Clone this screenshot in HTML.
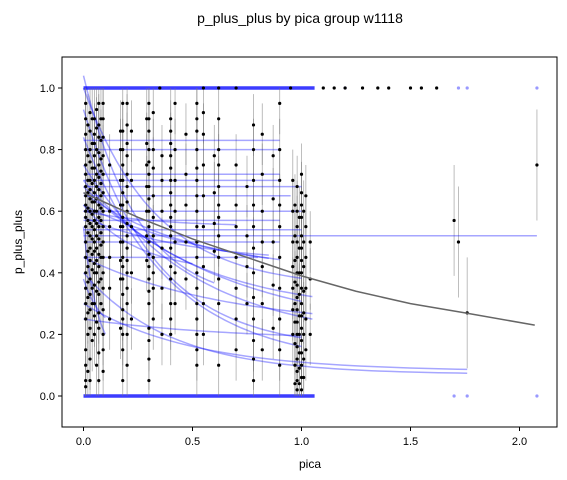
<!DOCTYPE html>
<html><head><meta charset="utf-8"><style>
body{margin:0;background:#fff}
svg{display:block;font-family:"Liberation Sans","DejaVu Sans",sans-serif}
</style></head><body>
<svg id="chart" width="567" height="480">
<text x="300" y="23" text-anchor="middle" font-size="14">p_plus_plus by pica group w1118</text>
<g id="plot"></g>
<rect x="62" y="57" width="495" height="370" fill="none" stroke="#000" stroke-width="1"/>
<g id="axes"></g>
<text x="310" y="468" text-anchor="middle" font-size="12">pica</text>
<text transform="translate(22,242) rotate(-90)" text-anchor="middle" font-size="12">p_plus_plus</text>
</svg>
<script>
const xTicks=[0,0.5,1.0,1.5,2.0];
const xTickLabels=["0.0","0.5","1.0","1.5","2.0"];
const yTicks=[0,0.2,0.4,0.6,0.8,1.0];
const yTickLabels=["0.0","0.2","0.4","0.6","0.8","1.0"];
const colX=[0.01,0.02,0.03,0.04,0.05,0.06,0.07,0.08,0.09,0.12,0.17,0.18,0.2,0.22,0.29,0.3,0.32,0.36,0.4,0.42,0.47,0.52,0.55,0.6,0.62,0.7,0.75,0.78,0.82,0.87,0.9,0.96,0.97,0.98,0.99,1.0,1.01,1.02,1.04];
const colY=[
[0.95,0.9,0.85,0.8,0.75,0.72,0.68,0.65,0.62,0.6,0.58,0.55,0.5,0.45,0.4,0.35,0.3,0.25,0.15,0.1,0.05,0.03],
[0.88,0.78,0.7,0.66,0.61,0.57,0.53,0.47,0.42,0.37,0.32,0.27,0.2,0.08],
[0.92,0.86,0.8,0.76,0.7,0.67,0.64,0.6,0.56,0.52,0.48,0.44,0.38,0.33,0.28,0.22,0.12,0.05],
[0.9,0.82,0.74,0.69,0.63,0.59,0.55,0.51,0.46,0.41,0.35,0.3,0.18],
[0.9,0.85,0.82,0.78,0.74,0.7,0.66,0.63,0.6,0.57,0.54,0.5,0.47,0.43,0.4,0.36,0.3,0.26,0.2],
[0.93,0.87,0.8,0.72,0.68,0.64,0.6,0.56,0.52,0.48,0.44,0.4,0.34,0.24,0.1],
[0.95,0.88,0.84,0.79,0.75,0.71,0.67,0.62,0.58,0.55,0.51,0.46,0.42,0.37,0.33,0.27,0.22,0.14,0.05],
[0.9,0.83,0.77,0.73,0.69,0.65,0.61,0.57,0.53,0.49,0.45,0.38,0.3],
[0.95,0.9,0.84,0.78,0.72,0.66,0.6,0.55,0.5,0.45,0.4,0.35,0.28,0.2,0.15,0.08],
[0.75,0.6,0.55,0.45,0.35,0.25],
[0.86,0.8,0.7,0.62,0.55,0.5,0.44,0.38,0.22],
[0.95,0.86,0.8,0.75,0.7,0.66,0.62,0.58,0.55,0.5,0.45,0.42,0.38,0.33,0.28,0.25,0.2,0.15,0.05],
[0.95,0.88,0.82,0.78,0.72,0.68,0.63,0.6,0.56,0.52,0.48,0.44,0.4,0.35,0.3,0.2,0.1],
[0.86,0.7,0.55,0.4,0.25],
[0.9,0.82,0.75,0.68,0.6,0.52,0.44],
[0.95,0.9,0.86,0.8,0.76,0.72,0.68,0.64,0.6,0.55,0.5,0.46,0.42,0.38,0.34,0.3,0.22,0.18,0.12,0.05],
[0.92,0.8,0.74,0.65,0.58,0.52,0.45,0.4,0.35,0.25],
[0.78,0.7,0.6,0.48,0.35,0.2],
[0.9,0.86,0.82,0.78,0.74,0.7,0.66,0.62,0.58,0.55,0.52,0.48,0.42,0.38,0.3,0.25,0.2],
[0.95,0.8,0.7,0.6,0.5,0.4,0.3],
[0.85,0.72,0.62,0.5,0.38],
[0.95,0.9,0.86,0.8,0.74,0.7,0.65,0.6,0.55,0.5,0.45,0.4,0.35,0.3,0.25,0.2,0.15,0.1],
[0.92,0.85,0.75,0.65,0.55,0.42,0.3,0.2],
[0.78,0.66,0.56,0.47],
[0.9,0.8,0.75,0.68,0.62,0.58,0.52,0.45,0.38,0.3,0.1],
[0.75,0.62,0.55,0.45,0.35,0.25,0.15],
[0.68,0.52,0.42,0.3],
[0.88,0.8,0.7,0.62,0.55,0.48,0.4,0.32,0.25,0.18,0.12,0.05],
[0.85,0.72,0.6,0.5,0.42,0.3,0.15],
[0.78,0.64,0.5,0.36,0.22],
[0.95,0.8,0.7,0.62,0.55,0.45,0.35,0.25,0.15,0.1],
[0.7,0.6,0.5,0.42,0.35,0.28,0.2],
[0.62,0.52,0.44,0.37,0.3,0.24,0.17,0.1,0.04],
[0.68,0.6,0.55,0.5,0.45,0.4,0.36,0.32,0.28,0.24,0.2,0.16,0.12,0.08,0.05,0.02],
[0.58,0.48,0.4,0.33,0.26,0.2,0.14,0.09,0.04],
[0.72,0.66,0.62,0.58,0.52,0.48,0.44,0.4,0.35,0.3,0.26,0.22,0.18,0.14,0.1,0.06,0.02],
[0.6,0.5,0.42,0.34,0.27,0.2,0.12,0.06],
[0.65,0.55,0.45,0.35,0.25,0.15],
[0.5,0.38,0.2]
];
const extraX=[1.7,1.72,1.76,2.08];
const extraY=[0.57,0.5,0.27,0.75];
const topDotX=[0.35,0.55,0.62,0.7,0.95,1.1,1.15,1.2,1.28,1.35,1.4,1.5,1.55,1.62];
const curveStart=[0.83,0.8,0.72,0.7,0.68,0.65,0.6,0.57,0.54,0.52,0.5,0.45,1.04,1.0,0.93,0.84,0.75,0.7,0.68,0.66,0.62,0.6,0.58,0.45,0.4,0.3,0.25,0.38,0.55,0.62];
const curveEnd=[0.83,0.8,0.72,0.7,0.68,0.65,0.6,0.57,0.54,0.52,0.5,0.45,0.3,0.35,0.15,0.1,0.18,0.27,0.2,0.4,0.38,0.55,0.43,0.22,0.07,0.08,0.18,0.2,0.1,0.4];
const curveRate=[0,0,0,0,0,0,0,0,0,0,0,0,4,3,3,2.5,2,2,1.5,2,1.5,3,2,1.5,2.5,2,1.5,12,15,4];
const curveXEnd=[0.9,0.9,0.9,0.9,1.0,0.95,1.0,0.9,1.0,2.08,0.9,0.8,0.6,1.0,1.0,1.0,1.05,1.05,1.0,0.9,0.85,0.7,0.85,1.05,1.76,1.76,1.0,0.1,0.1,0.5];
const meanX=[0,0.25,0.5,0.75,1.0,1.25,1.5,1.75,2.07];
const meanY=[0.66,0.58,0.51,0.45,0.39,0.34,0.3,0.27,0.23];

const X=v=>83.5+v*218, Y=v=>396-v*308;
const NS="http://www.w3.org/2000/svg";
const plot=document.getElementById('plot'), axes=document.getElementById('axes');
function mk(t,a,p){const e=document.createElementNS(NS,t);for(const k in a)e.setAttribute(k,a[k]);(p||plot).appendChild(e);return e;}

for(const v of [0,1]){
  const r=mk('line',{x1:X(0),x2:X(1.06),y1:Y(v),y2:Y(v),stroke:'#1a1aff','stroke-width':3.5,'stroke-opacity':0.85});
  
  
}
[[1.7,0],[1.76,0],[2.08,0],[2.08,1],[1.72,1],[1.76,1],[1.2,1]].forEach(p=>{
  const c=mk('circle',{cx:X(p[0]),cy:Y(p[1]),r:1.6,fill:'#0000ff','fill-opacity':0.4});
  
  
});

const pts=[];
colX.forEach((x,i)=>colY[i].forEach(y=>pts.push([x,y])));
extraX.forEach((x,i)=>pts.push([x,extraY[i]]));
pts.forEach(p=>{
  const h=p[0]>1.5?0.18:0.1;
  const e=mk('line',{x1:X(p[0]),x2:X(p[0]),y1:Y(Math.min(1,p[1]+h)),y2:Y(Math.max(0,p[1]-h)),stroke:'#777','stroke-width':0.8,'stroke-opacity':0.6});
  
  
});
curveStart.forEach((s,i)=>{
  let d='';
  for(let k=0;k<=40;k++){const x=curveXEnd[i]*k/40;const y=curveEnd[i]+(s-curveEnd[i])*Math.exp(-curveRate[i]*x);d+=(k?'L':'M')+X(x).toFixed(1)+','+Y(y).toFixed(1);}
  const c=mk('path',{d:d,fill:'none',stroke:'#0000ff','stroke-width':1.5,'stroke-opacity':0.35});
  
  
});
pts.forEach(p=>{
  const c=mk('circle',{cx:X(p[0]),cy:Y(p[1]),r:1.6,fill:'#000'});
  
  
});
topDotX.forEach(x=>{
  const c=mk('circle',{cx:X(x),cy:Y(1),r:1.6,fill:'#000'});
  
  
});
let md='';meanX.forEach((x,i)=>md+=(i?'L':'M')+X(x)+','+Y(meanY[i]));
const m=mk('path',{d:md,fill:'none',stroke:'#666','stroke-width':1.5});



xTicks.forEach((v,i)=>{
  mk('line',{x1:X(v),x2:X(v),y1:427,y2:431,stroke:'#000'},axes);
  const t=mk('text',{x:X(v),y:445,'text-anchor':'middle','font-size':11},axes);t.textContent=xTickLabels[i];
  
  
});
yTicks.forEach((v,i)=>{
  mk('line',{x1:58,x2:62,y1:Y(v),y2:Y(v),stroke:'#000'},axes);
  const t=mk('text',{x:55,y:Y(v)+4,'text-anchor':'end','font-size':11},axes);t.textContent=yTickLabels[i];
  
  
});
</script>
</body></html>
